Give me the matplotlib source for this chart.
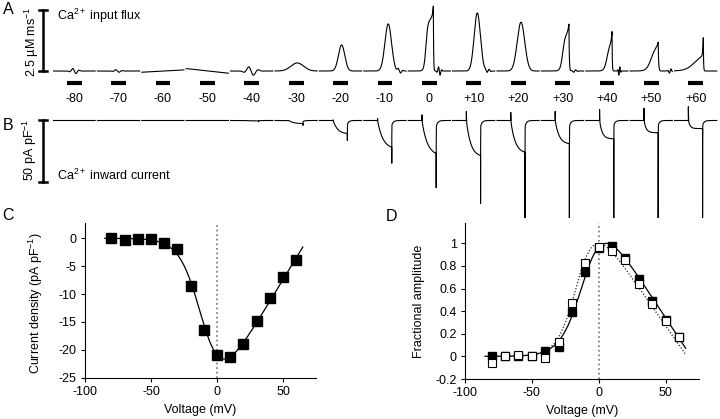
import numpy as np
import matplotlib
matplotlib.use("Agg")
import matplotlib.pyplot as plt
from matplotlib.ticker import FuncFormatter

plt.rcParams.update({
    "font.family": ["Liberation Sans", "DejaVu Sans"],
    "font.size": 9,
    "axes.unicode_minus": False,
    "mathtext.fontset": "custom",
    "mathtext.rm": "Liberation Sans",
    "mathtext.it": "Liberation Sans:italic",
    "mathtext.bf": "Liberation Sans:bold",
    "mathtext.default": "regular",
})

# ---------------- data ----------------
step_labels = ["-80", "-70", "-60", "-50", "-40", "-30", "-20", "-10", "0",
               "+10", "+20", "+30", "+40", "+50", "+60"]

# Panel A: Ca2+ input flux traces (uM/ms), shape parameters
flux_bump_amp = [0, 0, 0, 0, 0, 0.33, 1.07, 1.93, 0, 2.38, 2.0, 0, 0, 0, 0]
flux_bump_t   = [.5, .5, .5, .5, .5, .50, .50, .55, .5, .556, .54, .5, .5, .5, .5]
flux_bump_w   = [.1, .1, .1, .1, .1, .20, .10, .105, .1, .10, .12, .1, .1, .1, .1]
flux_ramp_amp = [0, 0, 0, 0, 0, 0, 0, 0, 2.1, 0, 0, 1.5, 1.15, 1.0, 0.7]
flux_ramp_t   = [.5, .5, .5, .5, .5, .5, .5, .5, .40, .5, .5, .48, .48, .47, .45]
flux_ramp_s   = [.1, .1, .1, .1, .1, .1, .1, .1, .022, .1, .1, .027, .032, .05, .10]
flux_spike_amp = [0, 0, 0, 0, 0, 0, 0, 0, 0.56, 0, 0, 0.43, 0.5, 0.22, 0.75]
flux_spike_tau = [.02, .02, .02, .02, .02, .02, .02, .02, .025, .02, .02, .03, .02, .03, .012]
flux_peak_t   = [1, 1, 1, 1, 1, 1, 1, 1, .566, 1, 1, .62, .59, .63, .646]
flux_off_tau  = [.01, .01, .01, .01, .01, .01, .01, .01, .006, .01, .01, .008, .006, .01, .006]
flux_rip_amp  = [-0.12, -0.06, 0, 0, -0.2, 0, 0, -0.1, -0.2, 0.08, 0, 0.06, 0.2, 0.1, 0]
flux_rip_t    = [.48, .45, .5, .5, .46, .5, .5, .80, .70, .80, .5, .75, .755, .90, .5]
flux_rip_per  = [.16, .16, .1, .1, .24, .1, .1, .12, .08, .1, .1, .1, .05, .08, .1]
flux_drift    = [0, 0, 0.1, -0.2, 0, 0, 0, 0, 0, 0, 0, 0, 0, 0, 0]

# Panel B: Ca2+ inward current traces (pA/pF)
cur_act  = [0, 0, 0, 0, 0.3, 2.5, 10.7, 21.9, 27.0, 28.7, 26.0, 19.0, 15.0, 10.0, 6.6]
cur_tail = [0, 0, 0, 0, 1.0, 4.0, 16.4, 35.0, 55.0, 68.0, 95, 95, 95, 95, 95]
cur_cap  = [0, 0, 0, 0, 0, 0, 0.5, 1.5, 4.6, 7.4, 6.6, 7.4, 9.0, 10.0, 11.3]
cur_tau  = [.1, .1, .1, .1, .1, .1, .1, .12, .12, .1, .1, .09, .06, .05, .04]
cur_rec  = [0, 0, 0, 0, 0.3, 1.0, 3.0, 4.0, 5.0, 5.0, 5.0, 5.0, 4.0, 4.0, 4.0]

# Panel C: I-V
voltage = [-80, -70, -60, -50, -40, -30, -20, -10, 0, 10, 20, 30, 40, 50, 60]
current_density = [0.0, -0.3, -0.1, -0.1, -0.9, -2.0, -8.6, -16.5, -21.0,
                   -21.2, -19.0, -14.8, -10.7, -6.9, -3.8]
iv_gmax, iv_vrev, iv_vhalf, iv_k = 0.39, 69.0, -10.0, 8.0

# Panel D: fractional amplitudes
frac_current = [0.005, 0.0, 0.0, 0.0, 0.047, 0.086, 0.396, 0.75, 0.96, 0.98,
                0.87, 0.683, 0.49, 0.32, 0.17]
frac_flux = [-0.056, 0.005, 0.015, 0.006, -0.012, 0.127, 0.47, 0.825, 0.964,
             0.93, 0.85, 0.64, 0.46, 0.31, 0.175]
fx_vrev, fx_vhalf, fx_k = 66.0, -15.0, 7.0

# ---------------- layout helpers ----------------
W, H = 720, 419
fig = plt.figure(figsize=(7.2, 4.19), dpi=100)


def px_axes(l, t, r, b):
    return fig.add_axes([l / W, 1 - b / H, (r - l) / W, (b - t) / H])


def sigmoid(x):
    return 1.0 / (1.0 + np.exp(-x))


n = len(step_labels)
t = np.linspace(0.0, 0.95, 1901)
pulse_on, pulse_off = 0.31, 0.63
bar_on, bar_off = 0.31, 0.645

# ---------------- Panel A ----------------
axA = px_axes(53, 0, 719, 105)
axA.set_xlim(0, n)
axA.set_ylim(-34 / 24.4, 71 / 24.4)
axA.axis("off")
for k in range(n):
    b = flux_bump_amp[k] * np.exp(-((t - flux_bump_t[k]) / flux_bump_w[k]) ** 2)
    te = flux_peak_t[k]
    ramp = flux_ramp_amp[k] * sigmoid((t - flux_ramp_t[k]) / flux_ramp_s[k])
    spike = flux_spike_amp[k] * np.exp(-np.clip(te - t, 0, None) / flux_spike_tau[k])
    core = ramp + spike
    top = flux_ramp_amp[k] * sigmoid((te - flux_ramp_t[k]) / flux_ramp_s[k]) + flux_spike_amp[k]
    after = t > te
    core[after] = top * np.exp(-(t[after] - te) / flux_off_tau[k])
    P = flux_rip_per[k]
    rip = flux_rip_amp[k] * np.sin(2 * np.pi * (t - flux_rip_t[k]) / P) * \
        np.exp(-((t - flux_rip_t[k]) / (0.6 * P)) ** 2)
    y = b + core + rip + flux_drift[k] * (t - 0.5)
    axA.plot(k + t, y, color="k", lw=0.8)
    axA.plot([k + bar_on, k + bar_off], [-0.49, -0.49], color="k", lw=3.0,
             solid_capstyle="butt")
    axA.text(k + 0.475, -1.15, step_labels[k], ha="center", va="center", fontsize=9)

xs = -0.225
axA.plot([xs, xs], [0, 2.5], color="k", lw=1.8, clip_on=False)
axA.plot([xs - 0.09, xs + 0.09], [0, 0], color="k", lw=1.8, clip_on=False)
axA.plot([xs - 0.09, xs + 0.09], [2.5, 2.5], color="k", lw=1.8, clip_on=False)

# ---------------- Panel B ----------------
axB = px_axes(53, 105, 719, 218)
axB.set_xlim(0, n)
axB.set_ylim(-(218 - 120.5) / 1.22, (120.5 - 105) / 1.22)
axB.axis("off")
for k in range(n):
    y = np.zeros_like(t)
    m = (t >= pulse_on) & (t < pulse_off)
    tau = cur_tau[k]
    y[m] = cur_cap[k] * np.exp(-(t[m] - pulse_on) / 0.003) - cur_act[k] * \
        (1 - np.exp(-(t[m] - pulse_on) / tau)) / (1 - np.exp(-(pulse_off - pulse_on) / tau))
    m2 = t >= pulse_off
    T, R = cur_tail[k], cur_rec[k]
    y[m2] = -(T - R) * np.exp(-(t[m2] - pulse_off) / 0.001) - R * np.exp(-(t[m2] - pulse_off) / 0.035)
    axB.plot(k + t, y, color="k", lw=0.8)

axB.plot([xs, xs], [0, -50], color="k", lw=1.8, clip_on=False)
axB.plot([xs - 0.09, xs + 0.09], [0, 0], color="k", lw=1.8, clip_on=False)
axB.plot([xs - 0.09, xs + 0.09], [-50, -50], color="k", lw=1.8, clip_on=False)

# texts for A/B
fig.text(32 / W, 1 - 42 / H, "2.5 µM ms$^{-1}$", rotation=90, ha="center", va="center")
fig.text(57 / W, 1 - 16 / H, "Ca$^{2+}$ input flux", ha="left", va="center")
fig.text(30 / W, 1 - 150 / H, "50 pA pF$^{-1}$", rotation=90, ha="center", va="center")
fig.text(57 / W, 1 - 175 / H, "Ca$^{2+}$ inward current", ha="left", va="center")
for lab, (x, yy) in zip("ABCD", [(8, 9), (8, 126), (8, 215), (392, 216)]):
    fig.text(x / W, 1 - yy / H, lab, ha="center", va="center", fontsize=11.5)


def style(ax):
    for s in ("top", "right"):
        ax.spines[s].set_visible(False)
    for s in ("left", "bottom"):
        ax.spines[s].set_linewidth(0.8)
    ax.tick_params(direction="out", length=3, width=0.8, labelsize=9, pad=3)
    ax.set_xlim(-100, 75)
    ax.set_xticks([-100, -50, 0, 50])
    ax.axvline(0, color="0.35", ls=(0, (1, 2)), lw=1.1, zorder=1)


vfit = np.linspace(-85, 65, 400)
iv_fit = iv_gmax * (vfit - iv_vrev) / (1 + np.exp((iv_vhalf - vfit) / iv_k))

# ---------------- Panel C ----------------
axC = px_axes(85, 223, 316, 377.7)
style(axC)
axC.set_ylim(-25, 2.75)
axC.set_yticks([-25, -20, -15, -10, -5, 0])
axC.plot(vfit, iv_fit, color="k", lw=0.9, zorder=2)
axC.plot(voltage, current_density, ls="none", marker="s", ms=6.5, mfc="k", mec="k", zorder=3)
axC.set_xlabel("Voltage (mV)")
axC.set_ylabel("Current density (pA pF$^{-1}$)")
axC.xaxis.set_label_coords(0.5, -0.17)
axC.yaxis.set_label_coords(-0.175, 0.48)

# ---------------- Panel D ----------------
axD = px_axes(465, 223, 699, 379)
style(axD)
axD.set_ylim(-0.2, 1.18)
axD.set_yticks([-0.2, 0, 0.2, 0.4, 0.6, 0.8, 1.0])
axD.yaxis.set_major_formatter(FuncFormatter(lambda v, p: "%g" % round(v, 2)))
fx = (vfit - fx_vrev) / (1 + np.exp((fx_vhalf - vfit) / fx_k))
axD.plot(vfit, iv_fit / iv_fit.min(), color="k", lw=0.9, zorder=2)
axD.plot(vfit, fx / fx.min(), color="0.15", lw=0.9, ls=(0, (1, 1.5)), zorder=2)
axD.plot(voltage, frac_current, ls="none", marker="s", ms=6, mfc="k", mec="k", zorder=3)
axD.plot(voltage, frac_flux, ls="none", marker="s", ms=6, mfc="white", mec="k",
         mew=0.8, zorder=4)
axD.set_xlabel("Voltage (mV)")
axD.set_ylabel("Fractional amplitude")
axD.xaxis.set_label_coords(0.5, -0.167)
axD.yaxis.set_label_coords(-0.172, 0.5)

fig.savefig("out.png", dpi=100)
